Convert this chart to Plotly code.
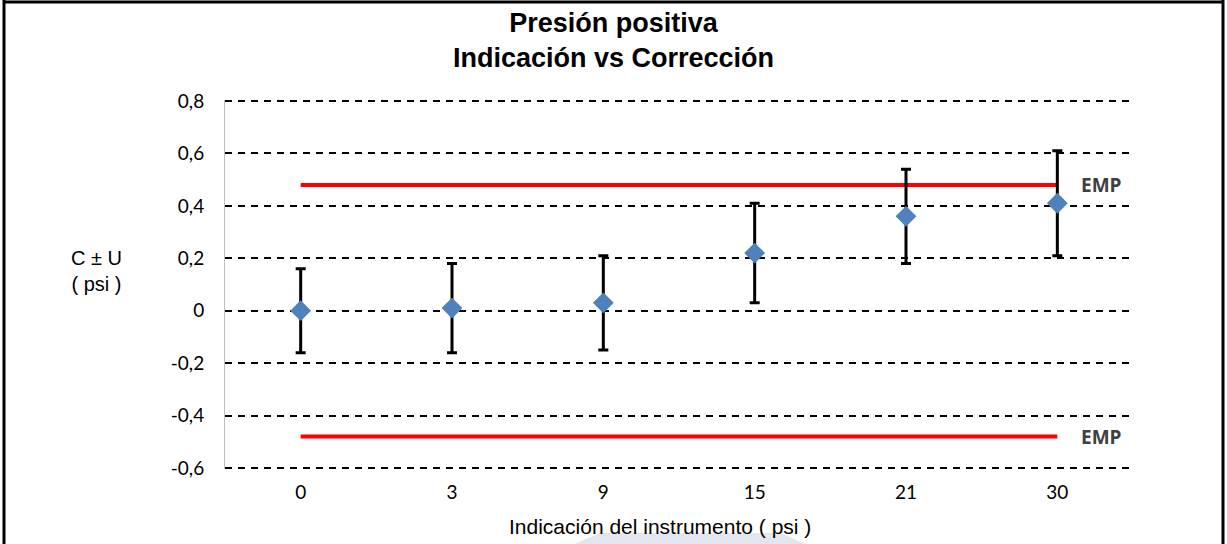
import plotly.graph_objects as go

categories = ["0", "3", "9", "15", "21", "30"]
correction = [0.0, 0.01, 0.03, 0.22, 0.36, 0.41]
err_plus = [0.16, 0.17, 0.18, 0.19, 0.18, 0.20]
err_minus = [0.16, 0.17, 0.18, 0.19, 0.18, 0.20]
emp_upper = [0.48, 0.48]
emp_lower = [-0.48, -0.48]
emp_x = ["0", "30"]
y_ticks = [0.8, 0.6, 0.4, 0.2, 0, -0.2, -0.4, -0.6]
y_tick_text = ["0,8", "0,6", "0,4", "0,2", "0", "-0,2", "-0,4", "-0,6"]

W, H = 1227, 544
L, R, T, B = 225, 94, 100, 75
PW, PH = W - L - R, H - T - B


def px(x):
    return (x - L) / PW


def py(y):
    return (H - B - y) / PH


fig = go.Figure()
fig.add_trace(go.Scatter(x=emp_x, y=emp_upper, mode="lines",
                         line=dict(color="#FF0000", width=4), showlegend=False))
fig.add_trace(go.Scatter(x=emp_x, y=emp_lower, mode="lines",
                         line=dict(color="#FF0000", width=4), showlegend=False))
fig.add_trace(go.Scatter(
    x=categories, y=correction, mode="markers",
    marker=dict(symbol="diamond", size=16, color="#4F81BD"),
    error_y=dict(type="data", symmetric=False, array=err_plus, arrayminus=err_minus,
                 color="black", thickness=3, width=5),
    showlegend=False))

fig.update_layout(
    width=W, height=H,
    margin=dict(l=L, r=R, t=T, b=B),
    paper_bgcolor="white", plot_bgcolor="white",
    title=dict(text="<b>Presión positiva<br>Indicación vs Corrección</b>",
               x=0.5, xanchor="center", y=1 - 32 / H, yanchor="middle",
               font=dict(family="Liberation Sans, Arial", size=27, color="black")),
    xaxis=dict(type="category", categoryorder="array", categoryarray=categories,
               range=[-0.5, 5.5], showgrid=False, zeroline=False, showline=False,
               ticks="", ticklabelstandoff=10,
               tickfont=dict(family="Lato", size=19, color="black")),
    yaxis=dict(range=[-0.604, 0.804], tickvals=y_ticks, ticktext=y_tick_text,
               showgrid=True, gridcolor="black", griddash="7px,6px", gridwidth=1.7,
               zeroline=False, showline=True, linecolor="#BFBFBF", linewidth=1,
               ticks="", ticklabelstandoff=16,
               tickfont=dict(family="Lato", size=19, color="black")),
    font=dict(family="Liberation Sans, Arial"),
)

fig.add_annotation(text="C ± U<br>( psi )", xref="paper", yref="paper",
                   x=px(96), y=py(271), xanchor="center", yanchor="middle",
                   showarrow=False,
                   font=dict(family="Liberation Sans, Arial", size=20, color="black"),
                   align="center")
fig.add_annotation(text="Indicación del instrumento ( psi )", xref="paper", yref="paper",
                   x=px(660), y=py(526), xanchor="center", yanchor="middle",
                   showarrow=False,
                   font=dict(family="Liberation Sans, Arial", size=21, color="black"))
for yv in (emp_upper[0], emp_lower[0]):
    fig.add_annotation(text="<b>EMP</b>", xref="paper", yref="y",
                       x=px(1079), y=yv, xanchor="left", yanchor="middle", showarrow=False,
                       font=dict(family="Open Sans, Noto Sans", size=19, color="#404040"))

# faint watermark at the bottom
fig.add_shape(type="path", xref="paper", yref="paper", layer="below",
              path=f"M {px(565)},{py(548)} L {px(600)},{py(533)} L {px(780)},{py(533)} "
                   f"L {px(815)},{py(548)} Z",
              fillcolor="#E3E6EE", line=dict(width=0))

# frame around the figure
fig.add_shape(type="line", xref="paper", yref="paper",
              x0=px(4), x1=px(4), y0=py(0), y1=py(560),
              line=dict(color="black", width=3))
fig.add_shape(type="line", xref="paper", yref="paper",
              x0=px(4), x1=px(1223), y0=py(2), y1=py(2),
              line=dict(color="black", width=3))
fig.add_shape(type="line", xref="paper", yref="paper",
              x0=px(1223), x1=px(1223), y0=py(0), y1=py(560),
              line=dict(color="black", width=3))

fig.write_html("out.html", config={"displayModeBar": False},
               post_script="document.body.style.margin='0';document.body.style.overflow='hidden';")
